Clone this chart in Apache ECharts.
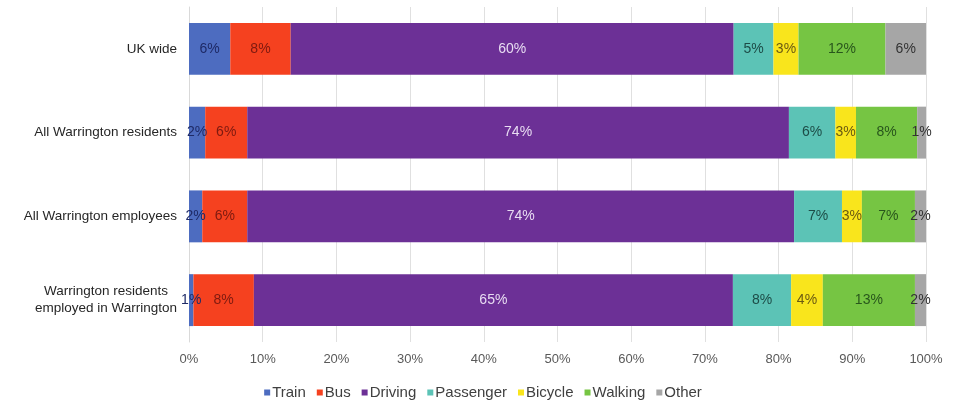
<!DOCTYPE html>
<html>
<head>
<meta charset="utf-8">
<script src="https://cdn.jsdelivr.net/npm/echarts@6/dist/echarts.min.js"></script>
<style>html,body{margin:0;padding:0;background:#fff}#c{width:966px;height:403px}</style>
</head>
<body>
<div id="c"></div>
<script>
const categories = ["UK wide", "All Warrington residents", "All Warrington employees", "Warrington residents\nemployed in Warrington"];
const seriesNames = ["Train", "Bus", "Driving", "Passenger", "Bicycle", "Walking", "Other"];
const train     = [5.6, 2.2, 1.8, 0.6];
const bus       = [8.2, 5.7, 6.1, 8.2];
const driving   = [60.1, 73.5, 74.2, 65.0];
const passenger = [5.4, 6.3, 6.5, 7.9];
const bicycle   = [3.4, 2.8, 2.7, 4.3];
const walking   = [11.8, 8.3, 7.2, 12.5];
const other     = [5.5, 1.2, 1.5, 1.5];
const xTicks = [0, 10, 20, 30, 40, 50, 60, 70, 80, 90, 100];

const values = [train, bus, driving, passenger, bicycle, walking, other];
const colors = ["#4d6cc0", "#f5411f", "#6c3096", "#5cc3b6", "#f9e51c", "#76c543", "#a6a6a6"];
const labelColors = ["#1e2a66", "#7d1a10", "#e8dcf2", "#1d4c47", "#6a5a12", "#28561c", "#333333"];
const FONT = 'Liberation Sans, Arial, sans-serif';

const chart = echarts.init(document.getElementById('c'));
chart.setOption({
  animation: false,
  backgroundColor: '#ffffff',
  grid: { left: 189, right: 40, top: 7, bottom: 61, containLabel: false },
  legend: {
    top: 380,
    left: 'center',
    icon: 'rect',
    itemWidth: 6,
    itemHeight: 6,
    itemGap: 11,
    textStyle: { color: '#404040', fontSize: 15, fontFamily: FONT, padding: [0, 0, 0, -3] },
    data: seriesNames
  },
  xAxis: {
    type: 'value',
    min: 0, max: 100, interval: 10,
    axisLine: { show: false },
    axisTick: { show: false },
    splitLine: { show: true, lineStyle: { color: '#e0e0e0', width: 1 } },
    axisLabel: {
      color: '#595959', fontSize: 13, margin: 11,
      fontFamily: FONT,
      formatter: v => xTicks.includes(v) ? v + '%' : ''
    }
  },
  yAxis: {
    type: 'category',
    inverse: true,
    data: categories,
    axisLine: { show: true, lineStyle: { color: '#d9d9d9' } },
    axisTick: { show: false },
    axisLabel: {
      color: '#262626', fontSize: 13.5, margin: 12,
      fontFamily: FONT,
      lineHeight: 17,
      formatter: v => v.split('\n').map(s => '{a|' + s + '}').join('\n'),
      rich: { a: { align: 'center', fontSize: 13.5, color: '#262626', lineHeight: 17, fontFamily: FONT } }
    }
  },
  series: seriesNames.map((name, i) => ({
    name: name,
    type: 'bar',
    stack: 'total',
    barCategoryGap: '38%',
    itemStyle: { color: colors[i] },
    label: {
      show: true,
      position: 'inside',
      color: labelColors[i],
      fontSize: 14,
      fontFamily: FONT,
      formatter: p => Math.round(p.value) + '%'
    },
    data: values[i]
  }))
});
</script>
</body>
</html>
